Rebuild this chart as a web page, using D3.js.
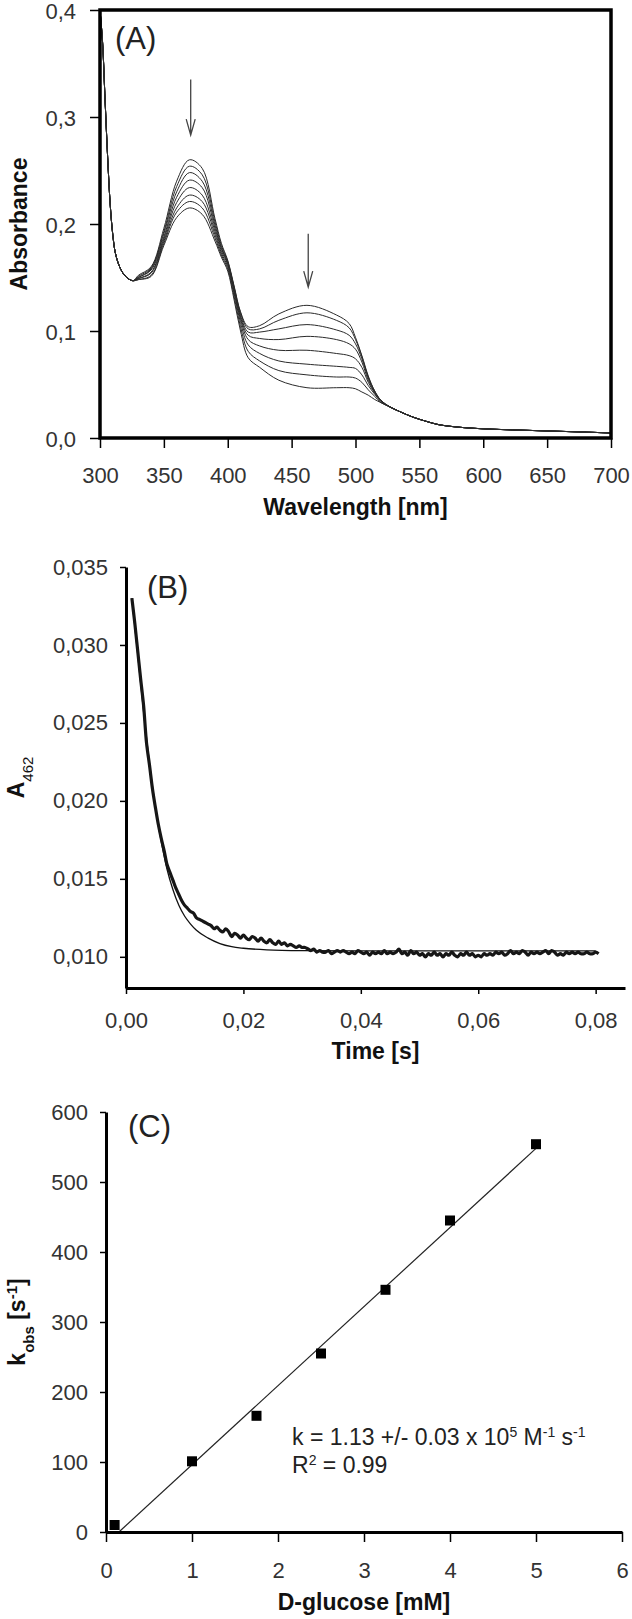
<!DOCTYPE html>
<html lang="en">
<head>
<meta charset="UTF-8">
<title>Spectra, A462 trace and kobs vs D-glucose</title>
<script src="https://cdnjs.cloudflare.com/ajax/libs/d3/7.8.5/d3.min.js"></script>
<style>
    body { margin: 0; background: #fff; }
    svg { display: block; font-family: "Liberation Sans", Arial, sans-serif; }
    .tick text { font-size: 22px; fill: #333; }
    .title { font-size: 23px; font-weight: bold; fill: #111; }
    .panel { font-size: 31px; fill: #222; }
    .note { font-size: 23px; fill: #222; }
</style>
<script>
    // (A) absorbance spectra: shared start, 8 scans in the band region, shared tail
    const wlShort = [300, 302, 304, 306, 308, 310, 312, 315, 318, 322, 326];
    const absShort = [0.400, 0.370, 0.315, 0.262, 0.218, 0.190, 0.173, 0.161, 0.154, 0.149, 0.147];
    const wlBand = [330, 340, 350, 360, 370, 380, 390, 395, 400, 405, 410, 416, 425, 440, 462, 485, 495, 500, 505, 510, 515, 520, 527];
    const scans = [
        [0.152, 0.160, 0.196, 0.240, 0.260, 0.252, 0.205, 0.182, 0.166, 0.142, 0.118, 0.104, 0.105, 0.116, 0.124, 0.115, 0.107, 0.094, 0.077, 0.058, 0.044, 0.035, 0.029],
        [0.151, 0.159, 0.193, 0.235, 0.254, 0.246, 0.202, 0.180, 0.165, 0.141, 0.117, 0.102, 0.102, 0.110, 0.117, 0.110, 0.103, 0.092, 0.076, 0.057, 0.044, 0.035, 0.029],
        [0.150, 0.158, 0.191, 0.230, 0.248, 0.240, 0.199, 0.178, 0.164, 0.140, 0.115, 0.099, 0.099, 0.102, 0.106, 0.101, 0.096, 0.088, 0.074, 0.056, 0.043, 0.035, 0.029],
        [0.150, 0.157, 0.188, 0.225, 0.241, 0.234, 0.196, 0.177, 0.163, 0.139, 0.113, 0.096, 0.093, 0.092, 0.095, 0.092, 0.088, 0.083, 0.071, 0.054, 0.043, 0.035, 0.029],
        [0.149, 0.155, 0.186, 0.220, 0.234, 0.227, 0.193, 0.175, 0.162, 0.137, 0.111, 0.092, 0.086, 0.082, 0.082, 0.079, 0.077, 0.074, 0.066, 0.052, 0.042, 0.034, 0.029],
        [0.149, 0.154, 0.184, 0.215, 0.227, 0.221, 0.190, 0.173, 0.160, 0.135, 0.108, 0.087, 0.079, 0.072, 0.069, 0.067, 0.066, 0.065, 0.059, 0.049, 0.041, 0.034, 0.029],
        [0.148, 0.152, 0.182, 0.211, 0.221, 0.215, 0.187, 0.171, 0.158, 0.132, 0.104, 0.081, 0.072, 0.063, 0.059, 0.057, 0.057, 0.056, 0.052, 0.045, 0.039, 0.033, 0.029],
        [0.148, 0.151, 0.180, 0.206, 0.215, 0.209, 0.184, 0.169, 0.156, 0.129, 0.100, 0.075, 0.066, 0.054, 0.047, 0.047, 0.047, 0.046, 0.043, 0.040, 0.036, 0.033, 0.029]
    ];
    const wlTail = [535, 545, 555, 565, 580, 600, 625, 650, 675, 700];
    const absTail = [0.0245, 0.0195, 0.0157, 0.0125, 0.0102, 0.0086, 0.0075, 0.0066, 0.0057, 0.0047];
    const arrowsA = [{wl: 371, from: 0.335, to: 0.283}, {wl: 463, from: 0.191, to: 0.141}];
    const absTicks = [0, 0.1, 0.2, 0.3, 0.4];
    const wlTicks = [300, 350, 400, 450, 500, 550, 600, 650, 700];

    // (B) A462 stopped-flow trace (units of 1e-3), sampled every 0.5 ms from 1 ms
    const traceStart = 0.001;
    const traceStep = 0.0005;
    const traceMilli = [
        33.0, 31.4, 29.6, 27.8, 26.1, 23.7, 22.3, 20.8, 19.6, 18.5,
        17.6, 16.8, 15.9, 15.4, 14.9, 14.4, 14.0, 13.6, 13.3, 13.1,
        12.9, 12.8, 12.5, 12.4, 12.3, 12.2, 12.1, 12.0, 11.8, 11.9,
        11.7, 11.6, 11.8, 11.6, 11.3, 11.5, 11.4, 11.2, 11.4, 11.2,
        11.1, 11.3, 11.2, 11.0, 11.2, 11.0, 10.9, 11.1, 10.9, 10.8,
        11.0, 10.8, 10.9, 10.7, 10.8, 10.7, 10.6, 10.7, 10.6, 10.6,
        10.5, 10.4, 10.5, 10.3, 10.4, 10.3, 10.3, 10.4, 10.2, 10.3,
        10.4, 10.3, 10.4, 10.3, 10.2, 10.3, 10.2, 10.4, 10.3, 10.2,
        10.3, 10.1, 10.3, 10.2, 10.3, 10.2, 10.4, 10.2, 10.3, 10.2,
        10.3, 10.5, 10.2, 10.3, 10.1, 10.4, 10.2, 10.3, 10.1, 10.2,
        10.0, 10.2, 10.1, 10.3, 10.1, 10.2, 10.0, 10.2, 10.1, 10.3,
        10.1, 10.0, 10.2, 10.1, 10.3, 10.1, 10.2, 10.0, 10.1, 10.0,
        10.2, 10.1, 10.2, 10.1, 10.3, 10.2, 10.3, 10.1, 10.2, 10.4,
        10.2, 10.3, 10.2, 10.4, 10.3, 10.1, 10.3, 10.2, 10.3, 10.2,
        10.3, 10.4, 10.2, 10.4, 10.3, 10.1, 10.2, 10.1, 10.3, 10.2,
        10.3, 10.2, 10.3, 10.2, 10.2, 10.3, 10.2, 10.2, 10.3, 10.2
    ];
    const fitTimes = [0.001, 0.002, 0.003, 0.004, 0.005, 0.006, 0.007, 0.008, 0.009, 0.010, 0.011, 0.012, 0.014, 0.016, 0.018, 0.020, 0.024, 0.030, 0.040, 0.080];
    const fitMilli = [33.0, 29.4, 25.7, 22.4, 19.6, 17.4, 15.6, 14.3, 13.3, 12.6, 12.1, 11.7, 11.2, 10.85, 10.65, 10.55, 10.45, 10.4, 10.38, 10.38];
    const a462Ticks = [0.010, 0.015, 0.020, 0.025, 0.030, 0.035];
    const timeTicks = [0, 0.02, 0.04, 0.06, 0.08];

    // (C) kobs vs D-glucose with linear fit
    const glucose = [0.1, 1, 1.75, 2.5, 3.25, 4, 5];
    const kobs = [10, 101, 166, 255, 346, 445, 554];
    const fitGlucose = [0.15, 5];
    const fitKobs = [0, 548];
    const kobsTicks = [0, 100, 200, 300, 400, 500, 600];
    const glucoseTicks = [0, 1, 2, 3, 4, 5, 6];

    const comma = d3.formatLocale({decimal: ",", thousands: ".", grouping: [3], currency: ["", ""]});

    document.addEventListener("DOMContentLoaded", () => makeGraph());

    function styleAxis(g, domainWidth) {
        g.attr("font-size", null).attr("font-family", null);
        g.select(".domain").attr("stroke", "#000").attr("stroke-width", domainWidth);
        g.selectAll(".tick line").attr("stroke", "#000").attr("stroke-width", 1.5);
    }

    function yTitle(svg, x, cy, parts) {
        const t = svg.append("text").attr("class", "title")
            .attr("transform", `translate(${x},${cy}) rotate(-90)`)
            .attr("text-anchor", "middle");
        parts.forEach(p => {
            const s = t.append("tspan").text(p.text);
            if (p.shift) s.attr("baseline-shift", p.shift).style("font-size", "15px").style("font-weight", p.weight || "normal");
        });
        return t;
    }

    function makeGraph() {
        const svg = d3.select("svg").attr("width", 632).attr("height", 1619);

        // ---------- (A) ----------
        const xA = d3.scaleLinear().domain([300, 700]).range([100, 611]);
        const yA = d3.scaleLinear().domain([0, 0.4]).range([438, 10]);

        svg.append("clipPath").attr("id", "clipA").append("rect")
            .attr("x", xA(300)).attr("y", yA(0.4)).attr("width", xA(700) - xA(300)).attr("height", yA(0) - yA(0.4));

        const lineA = d3.line().x(d => xA(d[0])).y(d => yA(d[1])).curve(d3.curveCatmullRom.alpha(0.5));
        const wlAll = wlShort.concat(wlBand, wlTail);
        svg.append("g").attr("clip-path", "url(#clipA)")
            .selectAll("path").data(scans).enter().append("path")
            .attr("d", scan => lineA(d3.zip(wlAll, absShort.concat(scan, absTail))))
            .attr("fill", "none").attr("stroke", "#2a2a2a").attr("stroke-width", 1);

        arrowsA.forEach(a => {
            const x = xA(a.wl), y1 = yA(a.from), y2 = yA(a.to);
            svg.append("path")
                .attr("d", `M${x},${y1}L${x},${y2}M${x - 4.5},${y2 - 16}L${x},${y2}L${x + 4.5},${y2 - 16}`)
                .attr("fill", "none").attr("stroke", "#444").attr("stroke-width", 1.3);
        });

        svg.append("rect").attr("x", xA(300)).attr("y", yA(0.4))
            .attr("width", xA(700) - xA(300)).attr("height", yA(0) - yA(0.4))
            .attr("fill", "none").attr("stroke", "#000").attr("stroke-width", 3.5);

        svg.append("g").attr("transform", `translate(0,${yA(0)})`)
            .call(d3.axisBottom(xA).tickValues(wlTicks).tickSize(10).tickPadding(19).tickSizeOuter(0))
            .call(g => { styleAxis(g, 0); g.select(".domain").remove(); });
        svg.append("g").attr("transform", `translate(${xA(300)},0)`)
            .call(d3.axisLeft(yA).tickValues(absTicks).tickFormat(comma.format(".1f")).tickSize(10).tickPadding(14).tickSizeOuter(0))
            .call(g => { styleAxis(g, 0); g.select(".domain").remove(); g.selectAll(".tick text").attr("dy", "0.4em"); });

        svg.append("text").attr("class", "title").attr("x", (xA(300) + xA(700)) / 2).attr("y", 515)
            .attr("text-anchor", "middle").text("Wavelength [nm]");
        yTitle(svg, 27, (yA(0) + yA(0.4)) / 2, [{text: "Absorbance"}]);
        svg.append("text").attr("class", "panel").attr("x", 115).attr("y", 49).text("(A)");

        // ---------- (B) ----------
        const xB = d3.scaleLinear().domain([0, 0.085]).range([126, 625]);
        const yB = d3.scaleLinear().domain([0.008, 0.035]).range([988, 567]);

        const traceData = traceMilli.map((v, i) => [traceStart + i * traceStep, v / 1000]);
        const fitData = fitTimes.map((t, i) => [t, fitMilli[i] / 1000]);

        svg.append("path").datum(fitData)
            .attr("d", d3.line().x(d => xB(d[0])).y(d => yB(d[1])).curve(d3.curveMonotoneX))
            .attr("fill", "none").attr("stroke", "#111").attr("stroke-width", 1.3);
        svg.append("path").datum(traceData)
            .attr("d", d3.line().x(d => xB(d[0])).y(d => yB(d[1])).curve(d3.curveCatmullRom.alpha(0.5)))
            .attr("fill", "none").attr("stroke", "#161616").attr("stroke-width", 3.2)
            .attr("stroke-linejoin", "round");

        svg.append("g").attr("transform", `translate(0,${yB(0.008)})`)
            .call(d3.axisBottom(xB).tickValues(timeTicks).tickFormat(comma.format(".2f")).tickSize(6).tickPadding(18).tickSizeOuter(0))
            .call(g => styleAxis(g, 3));
        svg.append("g").attr("transform", `translate(${xB(0)},0)`)
            .call(d3.axisLeft(yB).tickValues(a462Ticks).tickFormat(comma.format(".3f")).tickSize(6).tickPadding(12).tickSizeOuter(0))
            .call(g => styleAxis(g, 3));

        svg.append("text").attr("class", "title").attr("x", (xB(0) + xB(0.085)) / 2).attr("y", 1059)
            .attr("text-anchor", "middle").text("Time [s]");
        yTitle(svg, 24, (yB(0.008) + yB(0.035)) / 2, [{text: "A"}, {text: "462", shift: "sub"}]);
        svg.append("text").attr("class", "panel").attr("x", 147).attr("y", 598).text("(B)");

        // ---------- (C) ----------
        const xC = d3.scaleLinear().domain([0, 6]).range([106, 622]);
        const yC = d3.scaleLinear().domain([0, 600]).range([1532, 1112]);

        svg.append("line")
            .attr("x1", xC(fitGlucose[0])).attr("y1", yC(fitKobs[0]))
            .attr("x2", xC(fitGlucose[1])).attr("y2", yC(fitKobs[1]))
            .attr("stroke", "#222").attr("stroke-width", 1.2);

        svg.append("g").selectAll("rect").data(d3.zip(glucose, kobs)).enter().append("rect")
            .attr("x", d => xC(d[0]) - 5).attr("y", d => yC(d[1]) - 5)
            .attr("width", 10).attr("height", 10).attr("fill", "#000");

        svg.append("g").attr("transform", `translate(0,${yC(0)})`)
            .call(d3.axisBottom(xC).tickValues(glucoseTicks).tickFormat(d3.format("d")).tickSize(10).tickPadding(20).tickSizeOuter(0))
            .call(g => styleAxis(g, 3));
        svg.append("g").attr("transform", `translate(${xC(0)},0)`)
            .call(d3.axisLeft(yC).tickValues(kobsTicks).tickFormat(d3.format("d")).tickSize(6).tickPadding(12).tickSizeOuter(0))
            .call(g => styleAxis(g, 3));

        svg.append("text").attr("class", "title").attr("x", (xC(0) + xC(6)) / 2).attr("y", 1610)
            .attr("text-anchor", "middle").text("D-glucose [mM]");
        yTitle(svg, 25, (yC(0) + yC(600)) / 2, [
            {text: "k"}, {text: "obs", shift: "sub", weight: "bold"}, {text: " [s"}, {text: "-1", shift: "super", weight: "bold"}, {text: "]"}
        ]);
        svg.append("text").attr("class", "panel").attr("x", 128).attr("y", 1137).text("(C)");

        const note = svg.append("text").attr("class", "note").attr("x", 292).attr("y", 1445);
        note.append("tspan").text("k = 1.13 +/- 0.03 x 10");
        note.append("tspan").attr("baseline-shift", "super").style("font-size", "14px").text("5");
        note.append("tspan").text(" M");
        note.append("tspan").attr("baseline-shift", "super").style("font-size", "14px").text("-1");
        note.append("tspan").text(" s");
        note.append("tspan").attr("baseline-shift", "super").style("font-size", "14px").text("-1");
        const note2 = svg.append("text").attr("class", "note").attr("x", 292).attr("y", 1473);
        note2.append("tspan").text("R");
        note2.append("tspan").attr("baseline-shift", "super").style("font-size", "14px").text("2");
        note2.append("tspan").text(" = 0.99");
    }
</script>
</head>
<body>
    <svg></svg>
</body>
</html>
